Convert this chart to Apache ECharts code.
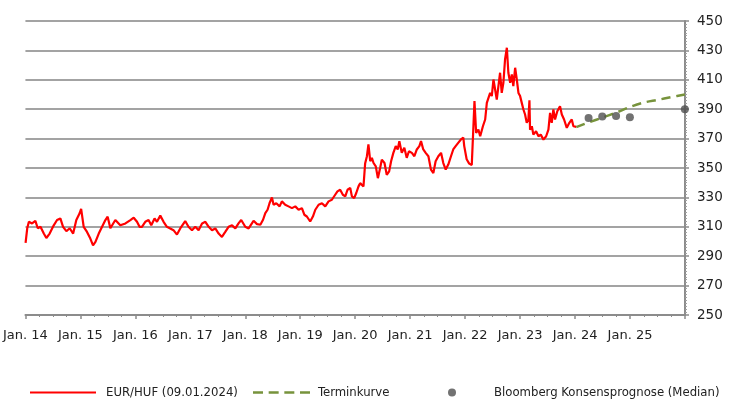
<!DOCTYPE html>
<html>
<head>
<meta charset="utf-8">
<script src="https://cdn.jsdelivr.net/npm/echarts@6/dist/echarts.min.js"></script>
<style>html,body{margin:0;padding:0;background:#fff}#c{width:742px;height:403px}</style>
</head>
<body>
<div id="c"></div>
<script>
// EUR/HUF spot
const fxDates = ['2014-01-02','2014-01-13','2014-01-24','2014-02-14','2014-03-08','2014-03-24','2014-04-11','2014-05-03','2014-05-20','2014-06-11','2014-07-08','2014-07-30','2014-08-21','2014-09-08','2014-09-30','2014-10-22','2014-11-14','2014-12-05','2014-12-27',
'2015-01-06','2015-01-23','2015-02-14','2015-03-08','2015-03-26','2015-04-11','2015-05-03','2015-05-25','2015-06-16','2015-07-01','2015-07-19','2015-08-21','2015-09-23','2015-10-27','2015-11-29','2015-12-21',
'2016-01-12','2016-01-29','2016-02-14','2016-03-07','2016-03-29','2016-04-16','2016-05-08','2016-05-24','2016-06-15','2016-07-07','2016-07-29','2016-08-20','2016-09-11','2016-10-04','2016-10-26','2016-11-28','2016-12-20',
'2017-01-12','2017-02-03','2017-02-25','2017-03-20','2017-04-11','2017-05-03','2017-05-25','2017-06-16','2017-07-08','2017-07-30','2017-08-21','2017-09-12','2017-10-05','2017-10-27','2017-11-17','2017-12-05',
'2018-01-01','2018-01-23','2018-02-14','2018-02-25','2018-03-20','2018-04-11','2018-04-29','2018-05-14','2018-05-29','2018-06-11','2018-06-27','2018-07-08','2018-07-26','2018-08-17','2018-09-01','2018-09-23','2018-10-15','2018-11-07','2018-11-29','2018-12-21',
'2019-01-12','2019-01-28','2019-02-14','2019-03-08','2019-03-26','2019-04-11','2019-05-03','2019-05-25','2019-06-16','2019-07-08','2019-07-30','2019-08-21','2019-09-05','2019-09-23','2019-10-11','2019-10-27','2019-11-11','2019-11-29','2019-12-10','2019-12-25',
'2020-01-08','2020-01-23','2020-02-03','2020-02-14','2020-02-25','2020-03-07','2020-03-19','2020-03-29','2020-04-10','2020-04-21','2020-05-02','2020-05-17','2020-05-31','2020-06-15','2020-06-26','2020-07-14','2020-07-29','2020-08-14','2020-08-27','2020-09-11','2020-09-27','2020-10-10','2020-10-21','2020-11-06','2020-11-23','2020-12-09','2020-12-24',
'2021-01-12','2021-01-29','2021-02-14','2021-03-03','2021-03-14','2021-03-29','2021-04-14','2021-05-02','2021-05-19','2021-06-04','2021-06-19','2021-07-07','2021-07-25','2021-08-09','2021-08-25','2021-09-11','2021-09-29','2021-10-14','2021-10-30','2021-11-16','2021-12-04','2021-12-20','2021-12-26',
'2022-01-11','2022-01-28','2022-02-14','2022-02-25','2022-03-04','2022-03-15','2022-03-30','2022-04-11','2022-04-29','2022-05-14','2022-05-25','2022-06-05','2022-06-16','2022-06-27','2022-07-08','2022-07-19','2022-07-30','2022-08-10','2022-08-21','2022-09-01','2022-09-12','2022-09-23','2022-10-05','2022-10-15','2022-10-27','2022-11-07','2022-11-17','2022-11-29','2022-12-10','2022-12-21',
'2023-01-01','2023-01-12','2023-01-23','2023-02-03','2023-02-14','2023-02-25','2023-03-04','2023-03-08','2023-03-20','2023-03-30','2023-04-17','2023-05-03','2023-05-18','2023-06-05','2023-06-23','2023-07-08','2023-07-19','2023-07-30','2023-08-10','2023-08-21','2023-09-05','2023-09-23','2023-10-05','2023-10-20','2023-11-07','2023-11-24','2023-12-10','2023-12-21','2024-01-01','2024-01-09'];
const fxValues = [299,309,313.4,312.3,314,309,310,305.4,302.4,305.4,311,314.6,315.7,310,307,309,305.4,314.6,319.2,
322.2,310,306.5,302,297.4,299.7,305.4,310,314.6,316.9,309,314.6,311,312.3,314.6,316.2,
313.4,310,310,313.4,314.6,311,315.7,313.4,317.6,313.4,310,308.9,307.7,304.7,308.9,313.9,310,
307.7,310,307.7,312.3,313.4,310,307.7,308.9,305.4,303.1,306.5,310,311,308.9,312.3,314.6,
310,308.9,312.3,314.1,311.8,311.4,314.8,319.3,321.6,326,330,325,326,323.9,327.3,325,323.9,322.7,323.9,321.6,
322.7,318.2,317,313.6,317,321.6,325,326,323.9,327.3,328.4,331.8,334.1,335.2,331.8,330.7,335.2,336.4,330.7,329.5,
333,337.5,339.7,338.6,337.4,353,358,366,354.6,356.9,353.4,351.1,343.1,350,355.7,353.4,345.4,347.7,354.6,360.3,364.9,362.6,368.3,360.3,363.7,356.9,361.4,
360.3,358,362.6,364.9,368.3,362.6,360.3,358,348.9,346.6,354.6,358,360.3,353.4,348.9,352.3,358,362.6,364.9,367.1,369.4,370.6,364.9,
356,353,352,378.4,395.5,373.9,376.1,371.6,378.4,383,394.3,397.7,401.1,398.9,410.2,403.4,396.6,405.7,414.8,401.1,408,423.9,431.8,414.8,408,413.6,405.7,418.2,410.2,401.1,
398.9,394.3,389.8,386.4,380.7,383,396,376.1,378.4,372.7,375,371.6,372.7,369.3,371.6,376.1,387.5,380.7,389.8,383,388.6,392,386.4,383,377.3,380.7,383,378.4,379.5,378];

// Terminkurve (forward curve)
const fwdDates = ['2024-01-09','2024-04-01','2024-07-01','2024-10-01','2025-01-01','2025-04-01','2025-07-01','2025-10-01','2025-12-31'];
const fwdValues = [377.8,381,384.3,387.7,391.5,394.5,396.3,398.2,400];

// Bloomberg consensus (median)
const consDates = ['2024-03-31','2024-06-30','2024-09-30','2024-12-31','2025-12-31'];
const consValues = [384,385,385.4,384.6,390];

const yTicks = {min:250, max:450, step:20};
const xYears = {min:2014, max:2026};

function toYear(s){
  const d = Date.parse(s + 'T00:00:00Z');
  const y = new Date(d).getUTCFullYear();
  const a = Date.UTC(y,0,1), b = Date.UTC(y+1,0,1);
  return y + (d - a) / (b - a);
}
const pairs = (ds, vs) => ds.map((d,i) => [toYear(d), vs[i]]);

const chart = echarts.init(document.getElementById('c'), null, {renderer:'canvas'});
const axisFont = 'DejaVu Sans';
const legFont = '"DejaVu Sans Condensed", "DejaVu Sans", sans-serif';
const legText = {fontFamily: legFont, fontSize: 13, color: '#222'};
const dashIcon = 'path://M0,0h10v2.5h-10z M15.67,0h10v2.5h-10z M31.33,0h10v2.5h-10z M47,0h10v2.5h-10z';

chart.setOption({
  animation: false,
  grid: {left: 25, right: 57, top: 21, bottom: 88, containLabel: false},
  xAxis: {
    type: 'value', min: xYears.min, max: xYears.max, interval: 1,
    axisLine: {show: true, onZero: false, lineStyle: {color: '#8c8c8c', width: 2}},
    axisTick: {show: true, length: 4, lineStyle: {color: '#8c8c8c', width: 1.5}},
    minorTick: {show: true, splitNumber: 4, length: 2, lineStyle: {color: '#8c8c8c', width: 1}},
    splitLine: {show: false},
    axisLabel: {
      margin: 14, fontFamily: axisFont, fontSize: 13, color: '#222',
      showMaxLabel: false,
      formatter: v => 'Jan. ' + String(Math.round(v)).slice(2)
    }
  },
  yAxis: {
    type: 'value', position: 'right', min: yTicks.min, max: yTicks.max, interval: yTicks.step,
    axisLine: {show: true, lineStyle: {color: '#8c8c8c', width: 2}},
    axisTick: {show: true, length: 4, lineStyle: {color: '#8c8c8c', width: 1.5}},
    minorTick: {show: true, splitNumber: 10, length: 2, lineStyle: {color: '#a0a0a0', width: 1}},
    splitLine: {show: true, lineStyle: {color: '#a3a3a3', width: 2}},
    axisLabel: {margin: 12, fontFamily: axisFont, fontSize: 13.5, color: '#222'}
  },
  legend: [
    {data: [{name: 'EUR/HUF (09.01.2024)', icon: 'rect'}], left: 25, top: 381, itemWidth: 66, itemHeight: 2,
     textStyle: Object.assign({padding:[0,0,0,5]}, legText)},
    {data: [{name: 'Terminkurve', icon: dashIcon}], left: 248, top: 381, itemWidth: 57, itemHeight: 2.5,
     textStyle: Object.assign({padding:[0,0,0,3]}, legText)},
    {data: [{name: 'Bloomberg Konsensprognose (Median)', icon: 'circle'}], left: 443, top: 381, itemWidth: 8, itemHeight: 8,
     textStyle: Object.assign({padding:[0,0,0,33]}, legText)}
  ],
  series: [
    {
      name: 'EUR/HUF (09.01.2024)', type: 'line', data: pairs(fxDates, fxValues),
      showSymbol: false, symbol: 'none', lineStyle: {color: '#ff0000', width: 2.2}, itemStyle: {color: '#ff0000'}, z: 3
    },
    {
      name: 'Terminkurve', type: 'line', data: pairs(fwdDates, fwdValues), smooth: 0.3,
      showSymbol: false, symbol: 'none', lineStyle: {color: '#77933c', width: 2.5, type: [9, 6]}, itemStyle: {color: '#77933c'}, z: 4
    },
    {
      name: 'Bloomberg Konsensprognose (Median)', type: 'scatter', data: pairs(consDates, consValues),
      symbol: 'circle', symbolSize: 8, itemStyle: {color: '#4f4f4f'}, clip: false, z: 5
    }
  ]
});
</script>
</body>
</html>
